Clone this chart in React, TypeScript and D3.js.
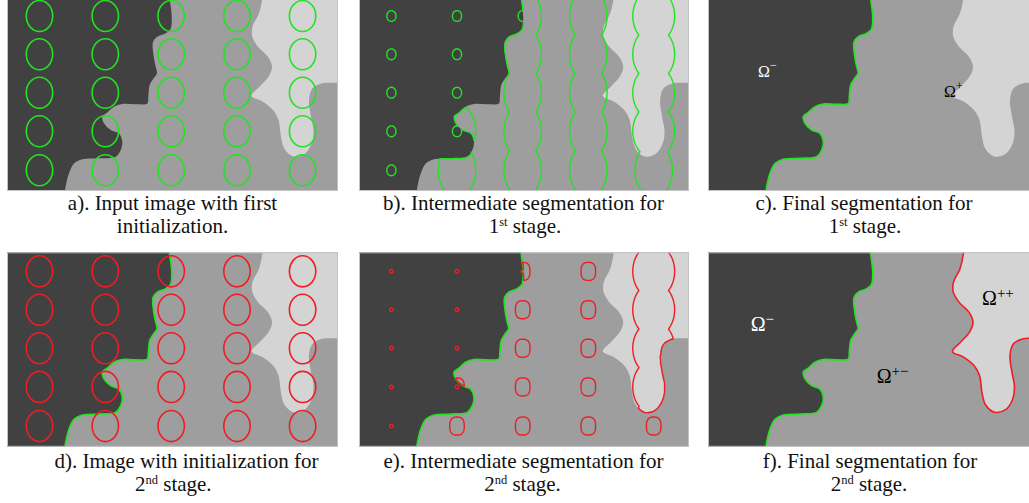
import React, { useMemo } from 'react';
import * as d3 from 'd3';

type Pt = [number, number];

// Size of the source frame, in image pixels
const IMG_W = 331;
const IMG_H = 194;

// Seed grid used to initialise the level-set contours
const SEED_X = [32.5, 98.3, 164.2, 230, 295.6];
const SEED_Y = [19, 57.3, 95.7, 134.3, 173.3];

// Boundary of the dark phase, top edge to bottom edge
const DARK_EDGE: Pt[] = [
  [162, -12], [162.5, 0], [164.7, 19.5], [163.5, 32], [158.7, 36.3], [150.3, 39.7],
  [146, 45], [147, 61.3], [148.7, 69.7], [150, 76.3], [146.5, 81.5], [142.7, 88],
  [141.3, 99.7], [140.3, 106.5], [128.7, 107.3], [115.3, 107], [107, 109.7],
  [100.3, 115.5], [95.3, 119.5], [97, 126.3], [103.7, 133], [112, 136.5],
  [115.3, 144.7], [113.7, 153], [108.7, 159.7], [92, 161.3], [75.3, 162.3],
  [67, 166.5], [62, 176.3], [59.3, 186.3], [58, 194], [57.5, 206],
];

// Boundary of the bright phase, top edge round to the right edge
const LIGHT_EDGE: Pt[] = [
  [256, -12], [255.5, 0], [252, 16.3], [245.5, 29.7], [245.3, 39.7], [251, 49.7],
  [261, 59.7], [265, 69.7], [261.5, 79.7], [252.5, 89.7], [244.5, 99], [255.5, 104.5],
  [266, 113], [271.5, 123], [274, 140], [277.5, 152], [286.5, 159.5], [297.5, 157],
  [304.5, 147], [306.5, 134], [304, 119.7], [302, 103], [305.5, 91.3], [315.3, 86.3],
  [322, 85.7], [331, 85.7], [343, 85.7],
];

const CAPTION_HEAD = [
  'a). Input image with first',
  'b). Intermediate segmentation for',
  'c). Final segmentation for',
  'd). Image with initialization for',
  'e). Intermediate segmentation for',
  'f). Final segmentation for',
];
const CAPTION_TAIL: [string, string, string][] = [
  ['initialization.', '', ''],
  ['1', 'st', ' stage.'],
  ['1', 'st', ' stage.'],
  ['2', 'nd', ' stage.'],
  ['2', 'nd', ' stage.'],
  ['2', 'nd', ' stage.'],
];

// Region names written into the final segmentations
const LABEL_PANEL = [2, 2, 5, 5, 5];
const LABEL_SUP = ['−', '+', '−', '+−', '++'];
const LABEL_WHITE = [true, false, true, false, false];
const LABEL_AT: Pt[] = [[50, 79.7], [236, 100.3], [42.7, 78.7], [168.7, 130.4], [274, 52.7]];

// ---- layout ----
const COL_X = [7, 359, 708];
const COL_W = [331, 330, 331];
const ROW_Y = [-3, 252.3];
const ROW_H = [194, 194.5];
const HEAD_CX = [172.5, 523.5, 864, 186.5, 523.5, 870];
const TAIL_CX = [172.5, 525, 865, 173.3, 522.5, 869];
const HEAD_BASE = [210, 467.5];
const TAIL_BASE = [232.5, 490.5];

// ---- style ----
const TONE_DARK = '#414141';
const TONE_MID = '#9e9e9e';
const TONE_LIGHT = '#d4d4d4';
const GREEN = '#22e322';
const RED = '#ee1d23';
const SERIF = "'Liberation Serif', 'Times New Roman', serif";

// Initial seed ellipse
const INIT_RX = 13.2;
const INIT_RY = 15.5;

// Sampling grid for the level-set fields
const S = 2;
const M = 6;
const GW = (IMG_W + 2 * M) * S;
const GH = (IMG_H + 2 * M) * S;

type Scale = (v: number) => number;

function regionPaths(xs: Scale, ys: Scale) {
  const edge = d3
    .line<Pt>()
    .x((d) => xs(d[0]))
    .y((d) => ys(d[1]))
    .curve(d3.curveCatmullRom.alpha(0.5));
  const darkEdge = edge(DARK_EDGE) as string;
  const lightEdge = edge(LIGHT_EDGE) as string;
  const dFirst = DARK_EDGE[0];
  const dLast = DARK_EDGE[DARK_EDGE.length - 1];
  const lFirst = LIGHT_EDGE[0];
  const lLast = LIGHT_EDGE[LIGHT_EDGE.length - 1];
  const dark = `${darkEdge}L${xs(-12)},${ys(dLast[1])}L${xs(-12)},${ys(dFirst[1])}Z`;
  const light = `${lightEdge}L${xs(lLast[0])},${ys(lFirst[1])}Z`;
  return { darkEdge, lightEdge, dark, light };
}

interface Seed {
  x: number;
  y: number;
  zone: number;
  touches: number;
}

function level(px: number, py: number, s: Seed, rx: number, ry: number, p = 2) {
  const dx = Math.abs(px - s.x) / rx;
  const dy = Math.abs(py - s.y) / ry;
  if (p === 2) return 1 - Math.sqrt(dx * dx + dy * dy);
  return 1 - Math.pow(Math.pow(dx, p) + Math.pow(dy, p), 1 / p);
}

function buildModel() {
  // Rasterise the three phases: 0 mid, 1 dark, 2 light
  const canvas = document.createElement('canvas');
  canvas.width = GW;
  canvas.height = GH;
  const ctx = canvas.getContext('2d') as CanvasRenderingContext2D;
  const id = d3.scaleLinear();
  const rp = regionPaths(id, id);
  ctx.setTransform(S, 0, 0, S, S * M, S * M);
  ctx.fillStyle = 'rgb(255,0,0)';
  ctx.fill(new Path2D(rp.dark));
  ctx.globalCompositeOperation = 'lighter';
  ctx.fillStyle = 'rgb(0,255,0)';
  ctx.fill(new Path2D(rp.light));
  const px = ctx.getImageData(0, 0, GW, GH).data;
  const zone = new Uint8Array(GW * GH);
  for (let i = 0; i < GW * GH; i++) {
    zone[i] = px[4 * i] > 127 ? 1 : px[4 * i + 1] > 127 ? 2 : 0;
  }
  const toG = (v: number) => Math.max(0, Math.min(GW - 1, Math.floor((v + M) * S)));
  const toGy = (v: number) => Math.max(0, Math.min(GH - 1, Math.floor((v + M) * S)));

  const seeds: Seed[] = [];
  SEED_Y.forEach((y) =>
    SEED_X.forEach((x) => {
      let touches = 0;
      for (let gy = toGy(y - INIT_RY); gy <= toGy(y + INIT_RY); gy++) {
        for (let gx = toG(x - INIT_RX); gx <= toG(x + INIT_RX); gx++) {
          const qx = (gx + 0.5) / S - M;
          const qy = (gy + 0.5) / S - M;
          const e = ((qx - x) / INIT_RX) ** 2 + ((qy - y) / INIT_RY) ** 2;
          if (e <= 1) touches |= 1 << zone[gy * GW + gx];
        }
      }
      seeds.push({ x, y, zone: zone[toGy(y) * GW + toG(x)], touches });
    })
  );

  const first = new Float64Array(GW * GH);
  const second = new Float64Array(GW * GH);
  for (let gy = 0; gy < GH; gy++) {
    const qy = (gy + 0.5) / S - M;
    for (let gx = 0; gx < GW; gx++) {
      const qx = (gx + 0.5) / S - M;
      const i = gy * GW + gx;
      const z = zone[i];
      let v1 = -1;
      let v2 = -1;
      for (const s of seeds) {
        if (Math.abs(qx - s.x) > 26 || Math.abs(qy - s.y) > 34) continue;
        // stage 1: dark vs. the rest
        let l1 = -1;
        if (z === 1) l1 = level(qx, qy, s, 4.6, 5.4);
        else if (s.touches & 5) l1 = level(qx, qy, s, s.zone === 2 ? 21 : 18.8, 27);
        if (l1 > v1) v1 = l1;
        // stage 2: mid vs. light, inside the non-dark part
        let l2 = -1;
        if (z === 1) {
          if (s.zone === 1) l2 = level(qx, qy, s, 1.8, 1.8);
        } else if (z === 0) {
          l2 = level(qx, qy, s, 7.3, 9, 2.6);
        } else if (s.touches & 4) {
          l2 = level(qx, qy, s, 21, 27);
        }
        if (l2 > v2) v2 = l2;
      }
      first[i] = v1;
      second[i] = v2;
    }
  }
  const gen = d3.contours().size([GW, GH]).thresholds([0]);
  return {
    stage1: gen(first as unknown as number[])[0],
    stage2: gen(second as unknown as number[])[0],
  };
}

function contourPath(geom: any, xs: Scale, ys: Scale) {
  const proj = d3.geoTransform({
    point(x: number, y: number) {
      (this as any).stream.point(xs(x / S - M), ys(y / S - M));
    },
  });
  return d3.geoPath(proj)(geom) || '';
}

export default function App() {
  const model = useMemo(() => buildModel(), []);

  const panels = d3.range(6).map((i) => {
    const col = i % 3;
    const row = Math.floor(i / 3);
    const x0 = COL_X[col];
    const y0 = ROW_Y[row];
    const w = COL_W[col];
    const h = ROW_H[row];
    const xs = d3.scaleLinear().domain([0, IMG_W]).range([x0, x0 + w]);
    const ys = d3.scaleLinear().domain([0, IMG_H]).range([y0, y0 + h]);
    return { i, col, row, x0, y0, w, h, xs, ys, rp: regionPaths(xs, ys) };
  });

  const seedEllipses = (p: (typeof panels)[0], color: string) =>
    SEED_Y.flatMap((y, r) =>
      SEED_X.map((x, c) => (
        <ellipse
          key={`e${r}-${c}`}
          cx={p.xs(x)}
          cy={p.ys(y)}
          rx={p.xs(INIT_RX) - p.xs(0)}
          ry={p.ys(INIT_RY) - p.ys(0)}
          fill="none"
          stroke={color}
          strokeWidth={1.6}
        />
      ))
    );

  const edgeLine = (d: string, color: string) => (
    <path d={d} fill="none" stroke={color} strokeWidth={1.6} strokeLinejoin="round" />
  );

  const labels = (p: (typeof panels)[0]) =>
    LABEL_PANEL.map((pi, k) => {
      if (pi !== p.i) return null;
      const big = p.i === 5;
      return (
        <text
          key={`l${k}`}
          x={p.xs(LABEL_AT[k][0])}
          y={p.ys(LABEL_AT[k][1])}
          fontFamily={SERIF}
          fontSize={big ? 20 : 16}
          fill={LABEL_WHITE[k] ? '#ffffff' : '#000000'}
        >
          Ω
          <tspan fontSize={big ? 15 : 12} dy={-7.5}>
            {LABEL_SUP[k]}
          </tspan>
        </text>
      );
    });

  const overlay = (p: (typeof panels)[0]) => {
    switch (p.i) {
      case 0:
        return seedEllipses(p, GREEN);
      case 1:
        return (
          <path d={contourPath(model.stage1, p.xs, p.ys)} fill="none" stroke={GREEN} strokeWidth={1.4} />
        );
      case 2:
        return (
          <>
            {edgeLine(p.rp.darkEdge, GREEN)}
            {labels(p)}
          </>
        );
      case 3:
        return (
          <>
            {edgeLine(p.rp.darkEdge, GREEN)}
            {seedEllipses(p, RED)}
          </>
        );
      case 4:
        return (
          <>
            {edgeLine(p.rp.darkEdge, GREEN)}
            <path d={contourPath(model.stage2, p.xs, p.ys)} fill="none" stroke={RED} strokeWidth={1.4} />
          </>
        );
      default:
        return (
          <>
            {edgeLine(p.rp.darkEdge, GREEN)}
            {edgeLine(p.rp.lightEdge, RED)}
            {labels(p)}
          </>
        );
    }
  };

  return (
    <div style={{ position: 'absolute', left: 0, top: 0 }}>
      <svg width={1029} height={503} style={{ display: 'block', background: '#ffffff' }}>
        <defs>
          {panels.map((p) => (
            <clipPath id={`clip${p.i}`} key={`c${p.i}`}>
              <rect x={p.x0} y={p.y0} width={p.w} height={p.h} />
            </clipPath>
          ))}
        </defs>
        {panels.map((p) => (
          <g key={`p${p.i}`}>
            <g clipPath={`url(#clip${p.i})`}>
              <rect x={p.x0} y={p.y0} width={p.w} height={p.h} fill={TONE_MID} />
              <path d={p.rp.dark} fill={TONE_DARK} />
              <path d={p.rp.light} fill={TONE_LIGHT} />
              {overlay(p)}
            </g>
            <rect
              x={p.x0 + 0.5}
              y={p.y0 + 0.5}
              width={p.w - 1}
              height={p.h - 1}
              fill="none"
              stroke="#c2c2c2"
              strokeWidth={1}
            />
            <text
              x={HEAD_CX[p.i]}
              y={HEAD_BASE[p.row]}
              textAnchor="middle"
              fontFamily={SERIF}
              fontSize={21}
              fill="#111111"
            >
              {CAPTION_HEAD[p.i]}
            </text>
            <text
              x={TAIL_CX[p.i]}
              y={TAIL_BASE[p.row]}
              textAnchor="middle"
              fontFamily={SERIF}
              fontSize={21}
              fill="#111111"
            >
              {CAPTION_TAIL[p.i][0]}
              {CAPTION_TAIL[p.i][1] ? (
                <>
                  <tspan fontSize={12.5} dy={-7}>
                    {CAPTION_TAIL[p.i][1]}
                  </tspan>
                  <tspan dy={7}>{CAPTION_TAIL[p.i][2]}</tspan>
                </>
              ) : null}
            </text>
          </g>
        ))}
      </svg>
    </div>
  );
}
